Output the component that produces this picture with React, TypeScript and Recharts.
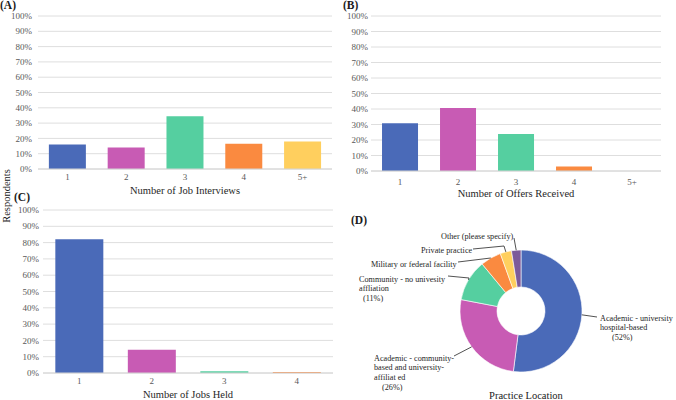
import { Bar, BarChart, CartesianGrid, Cell, Pie, PieChart, XAxis, YAxis } from 'recharts';

// values (percent of respondents)
const interviewCats = ['1', '2', '3', '4', '5+'];
const interviewPct = [16, 14, 34.5, 16.5, 18];

const offerCats = ['1', '2', '3', '4', '5+'];
const offerPct = [30.8, 40.6, 23.9, 2.9, 0];

const jobCats = ['1', '2', '3', '4'];
const jobPct = [82, 14.2, 1, 0.6];

const locationNames = [
  'Academic - university hospital-based',
  'Academic - community-based and university-affiliat ed',
  'Community - no univesity affliation',
  'Military or federal facility',
  'Private practice',
  'Other (please specify)',
];
const locationPct = [52, 26, 11, 5.5, 3, 2.5];

const pctTicks = [0, 10, 20, 30, 40, 50, 60, 70, 80, 90, 100];

const FONT = "'Liberation Serif', 'DejaVu Serif', serif";
const TICK = { fill: '#595959', fontSize: 9, fontFamily: FONT };
const COLORS = ['#4a6ab8', '#c85bb4', '#55cfa0', '#fa8a40', '#ffcf5e', '#7d5a9a'];

// pie label placement, relative to the donut centre
const labelLayout = [
  { lines: ['Academic - university', 'hospital-based'], x: 79, y: 7, pctX: 91, pct: true, attach: [[76, 6]] },
  { lines: ['Academic - community-', 'based and university-', 'affiliat ed'], x: -147, y: 47, pctX: -139, pct: true, attach: [[-67, 45]] },
  { lines: ['Community - no univesity', 'affliation'], x: -162, y: -32, pctX: -158, pct: true, attach: [[-73, -35], [-52, -33]] },
  { lines: ['Military or federal facility'], x: -150, y: -47, pctX: 0, pct: false, attach: [[-63, -49]] },
  { lines: ['Private practice'], x: -100, y: -61, pctX: 0, pct: false, attach: [[-48, -62], [-17, -65]] },
  { lines: ['Other (please specify)'], x: -80, y: -75, pctX: 0, pct: false, attach: [[-7, -73]] },
];

interface PanelProps {
  categories: string[];
  values: number[];
  title: string;
  margin: { top: number; right: number; bottom: number; left: number };
  yWidth: number;
  xHeight: number;
  tickMargin: number;
  yTickMargin: number;
  titleOffset: number;
  gap: string;
}

function PercentBars(props: PanelProps) {
  const data = props.categories.map((c, i) => ({ cat: c, pct: props.values[i] }));
  return (
    <BarChart width={340} height={200} data={data} margin={props.margin} barCategoryGap={props.gap}>
      <CartesianGrid vertical={false} stroke="#dedede" />
      <XAxis
        dataKey="cat"
        height={props.xHeight}
        interval={0}
        tickLine={false}
        tickSize={0}
        tickMargin={props.tickMargin}
        axisLine={{ stroke: '#d4d4d4' }}
        tick={TICK}
        label={{
          value: props.title,
          position: 'insideBottom',
          offset: props.titleOffset,
          fill: '#262626',
          fontSize: 10.5,
          fontFamily: FONT,
        }}
      />
      <YAxis
        domain={[0, 100]}
        ticks={pctTicks}
        tickFormatter={(v) => `${v}%`}
        width={props.yWidth}
        axisLine={false}
        tickLine={false}
        tickSize={0}
        tickMargin={props.yTickMargin}
        tick={TICK}
        interval={0}
      />
      <Bar dataKey="pct" isAnimationActive={false}>
        {data.map((d, i) => (
          <Cell key={d.cat} fill={COLORS[i]} />
        ))}
      </Bar>
    </BarChart>
  );
}

function renderLocationLabel(props: any) {
  const { cx, cy, midAngle, outerRadius, index, value } = props;
  const layout = labelLayout[index];
  if (!layout) return null;
  const rad = (-midAngle * Math.PI) / 180;
  const ex = cx + outerRadius * Math.cos(rad);
  const ey = cy + outerRadius * Math.sin(rad);
  const pts = [...layout.attach.map(([ax, ay]) => `${cx + ax},${cy + ay}`), `${ex},${ey}`].join(' ');
  const lineH = 9.6;
  return (
    <g key={`lbl-${index}`}>
      <polyline points={pts} fill="none" stroke="#262626" strokeWidth={0.8} />
      {layout.lines.map((ln, i) => (
        <text
          key={ln}
          x={cx + layout.x}
          y={cy + layout.y + i * lineH}
          dominantBaseline="central"
          fontSize={8.2}
          fontFamily={FONT}
          fill="#262626"
        >
          {ln}
        </text>
      ))}
      {layout.pct && (
        <text
          x={cx + layout.pctX}
          y={cy + layout.y + layout.lines.length * lineH + 0.5}
          dominantBaseline="central"
          fontSize={8.2}
          fontFamily={FONT}
          fill="#262626"
        >
          {`(${Math.round(value)}%)`}
        </text>
      )}
    </g>
  );
}

export default function App() {
  const pieData = locationNames.map((n, i) => ({ name: n, pct: locationPct[i] }));
  return (
    <div style={{ position: 'absolute', left: 0, top: 0, width: 676, height: 400, background: '#fff', fontFamily: FONT }}>
      <div style={{ position: 'absolute', left: 0, top: 0 }}>
        <PercentBars
          categories={interviewCats}
          values={interviewPct}
          title="Number of Job Interviews"
          margin={{ top: 16, right: 8, bottom: 0, left: 0 }}
          yWidth={38}
          xHeight={31}
          tickMargin={5}
          yTickMargin={6}
          titleOffset={6.5}
          gap="18.5%"
        />
      </div>
      <div style={{ position: 'absolute', left: 336, top: 0 }}>
        <PercentBars
          categories={offerCats}
          values={offerPct}
          title="Number of Offers Received"
          margin={{ top: 16, right: 15, bottom: 0, left: 0 }}
          yWidth={35}
          xHeight={29}
          tickMargin={8}
          yTickMargin={3}
          titleOffset={3.5}
          gap="19%"
        />
      </div>
      <div style={{ position: 'absolute', left: 0, top: 200 }}>
        <PercentBars
          categories={jobCats}
          values={jobPct}
          title="Number of Jobs Held"
          margin={{ top: 10, right: 7, bottom: 0, left: 0 }}
          yWidth={43}
          xHeight={27}
          tickMargin={4.5}
          yTickMargin={4}
          titleOffset={2.5}
          gap="17%"
        />
      </div>
      <div style={{ position: 'absolute', left: 336, top: 195 }}>
        <PieChart width={340} height={205}>
          <Pie
            data={pieData}
            dataKey="pct"
            nameKey="name"
            cx={180}
            cy={111}
            innerRadius={24}
            outerRadius={61}
            startAngle={90}
            endAngle={-270}
            stroke="#fff"
            strokeWidth={0.6}
            label={renderLocationLabel}
            labelLine={false}
            isAnimationActive={false}
          >
            {pieData.map((d, i) => (
              <Cell key={d.name} fill={COLORS[i]} />
            ))}
          </Pie>
        </PieChart>
      </div>
      <svg width={676} height={400} style={{ position: 'absolute', left: 0, top: 0, pointerEvents: 'none' }}>
        <g fontFamily={FONT} fill="#1a1a1a">
          <text x={0} y={5} fontSize={11.5} fontWeight="bold" dominantBaseline="central">(A)</text>
          <text x={343} y={5} fontSize={11.5} fontWeight="bold" dominantBaseline="central">(B)</text>
          <text x={14} y={197} fontSize={11.5} fontWeight="bold" dominantBaseline="central">(C)</text>
          <text x={351} y={220} fontSize={11.5} fontWeight="bold" dominantBaseline="central">(D)</text>
          <text
            x={6}
            y={196}
            fontSize={10.5}
            textAnchor="middle"
            dominantBaseline="central"
            transform="rotate(-90 6 196)"
          >
            Respondents
          </text>
          <text x={526} y={395} fontSize={10.5} textAnchor="middle" dominantBaseline="central">
            Practice Location
          </text>
        </g>
      </svg>
    </div>
  );
}
